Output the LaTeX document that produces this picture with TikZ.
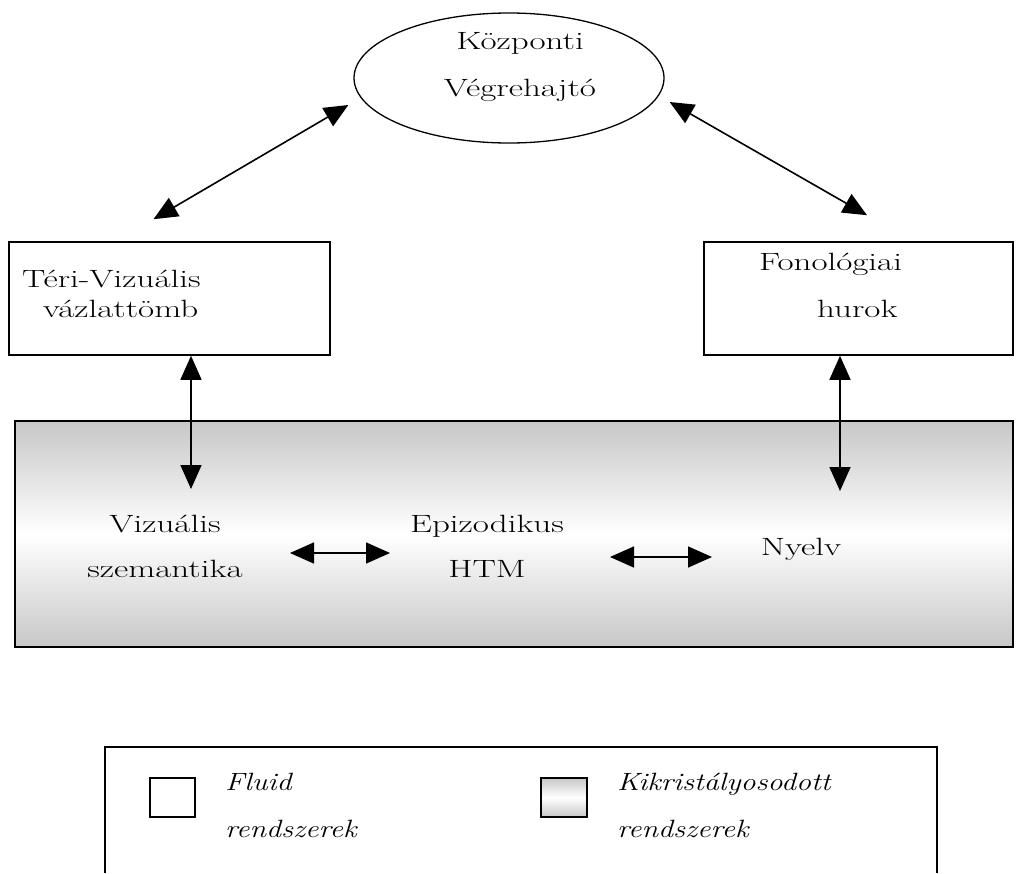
\documentclass[tikz,border=0pt]{standalone}
\usepackage{fontspec}
\usepackage{graphicx}
\usetikzlibrary{arrows.meta,shapes.geometric}
\newcommand{\hs}[1]{\scalebox{1.4}[1]{#1}}
\newcommand{\hi}[1]{\scalebox{1.2}[1]{\itshape #1}}
\begin{document}
\begin{tikzpicture}[x=1pt,y=-1pt,
   txt/.style={font=\fontsize{25}{#1}\selectfont,inner sep=0pt},
   box/.style={draw,line width=1.6pt,inner sep=0pt},
   crys/.style={box,top color=black!22,bottom color=black!22,middle color=white},
   bi/.style={{Triangle[length=24pt,width=21pt]}-{Triangle[length=24pt,width=21pt]},line width=1.6pt}]
\useasboundingbox (0,0) rectangle (1017,873);

\node[ellipse,draw,line width=1.3pt,minimum width=310pt,minimum height=130pt,inner sep=0pt] (ce) at (509,78) {};
\node[txt=47,align=center] (cet) at (520,67.4) {\hs{Központi}\\\hs{Végrehajtó}};

\node[box,minimum width=321pt,minimum height=113pt] (tv) at (169.5,298.5) {};
\node[txt=30,align=left,anchor=north west] (tvt) at (22,269.6) {\hs{Téri-Vizuális}\\\hspace*{21pt}\hs{vázlattömb}};
\node[box,minimum width=309pt,minimum height=113pt] (fh) at (858.5,298.5) {};
\node[txt=47,align=left,anchor=north west] (fht) at (759,252.6) {\hs{Fonológiai}\\\hspace*{58pt}\hs{hurok}};

\node[crys,minimum width=998pt,minimum height=226pt] (ltm) at (514,534) {};
\node[txt=45,align=center,anchor=north] (vs) at (165,514.6) {\hs{Vizuális}\\\hs{szemantika}};
\node[txt=45,align=center,anchor=north] (ep) at (487,514.6) {\hs{Epizodikus}\\\hs{HTM}};
\node[txt=30,anchor=north] (ny) at (801,537.6) {\hs{Nyelv}};

\draw[bi] ([shift={(-16pt,22pt)}]tv.north) -- ([shift={(-5pt,-27pt)}]ce.west);
\draw[bi] ([shift={(5pt,-24pt)}]ce.east) -- ([shift={(8.5pt,26pt)}]fh.north);
\draw[bi] ([xshift=21.5pt]tv.south) -- ([shift={(26pt,25.6pt)}]vs.north);
\draw[bi] ([xshift=-18.5pt]fh.south) -- ([shift={(39pt,46.6pt)}]ny.north);
\draw[bi] ([shift={(125pt,-38.4pt)}]vs.north) -- ([shift={(-97pt,-38.4pt)}]ep.north);
\draw[bi] ([shift={(123pt,-42.4pt)}]ep.north) -- ([shift={(-89pt,-19.4pt)}]ny.north);

\draw[line width=1.6pt] (105,873) -- (105,747) -- (937,747) -- (937,873);
\node[box,minimum width=45pt,minimum height=39pt] (lf) at (172.5,797.5) {};
\node[crys,minimum width=46pt,minimum height=39pt] (lk) at (564,797.5) {};
\node[txt=47,align=left,anchor=north west] (lft) at (225,772.6) {\hi{Fluid}\\\hi{rendszerek}};
\node[txt=47,align=left,anchor=north west] (lkt) at (617,772.6) {\hi{Kikristályosodott}\\\hi{rendszerek}};
\end{tikzpicture}
\end{document}
